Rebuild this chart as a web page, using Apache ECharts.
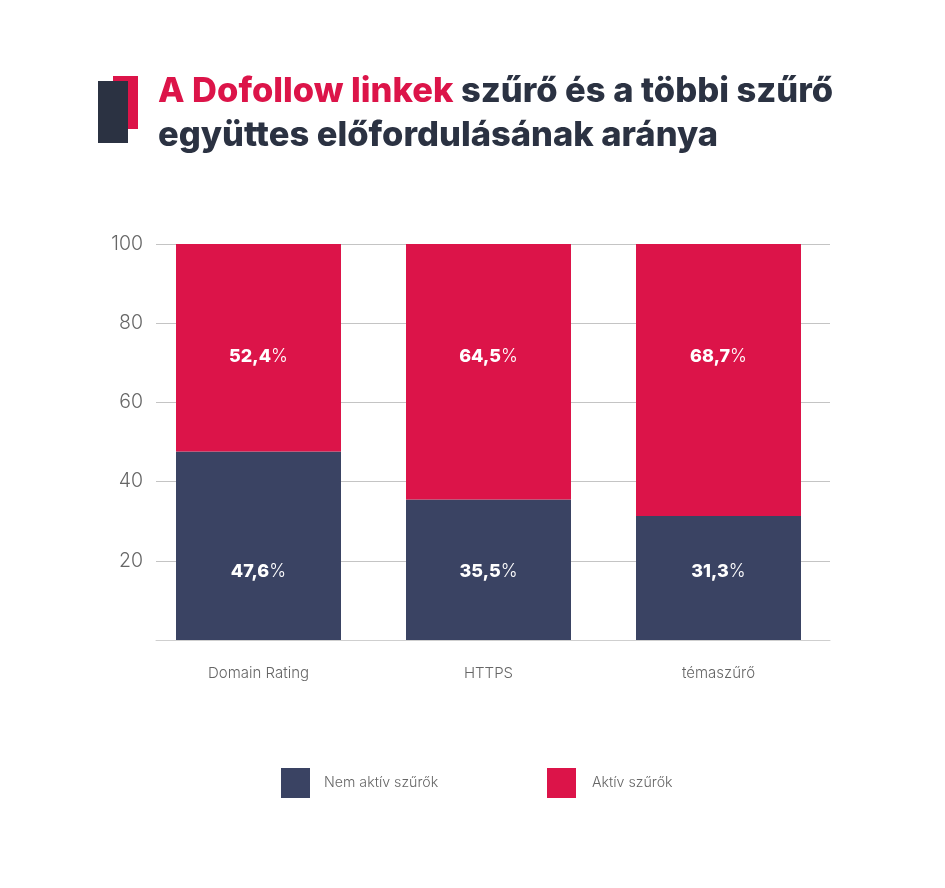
<!DOCTYPE html>
<html>
<head>
<meta charset="utf-8">
<style>html,body{margin:0;padding:0;background:#fff}#chart{width:945px;height:888px}</style>
<script src="https://cdn.jsdelivr.net/npm/echarts@6/dist/echarts.min.js"></script>
</head>
<body>
<div id="chart"></div>
<script>
const categories = ['Domain Rating', 'HTTPS', 'témaszűrő'];
const inactive = [47.6, 35.5, 31.3];
const active = [52.4, 64.5, 68.7];
const inactiveName = 'Nem aktív szűrők';
const activeName = 'Aktív szűrők';
const yTicks = { min: 0, max: 100, interval: 20 };

const NAVY = '#3a4363', RED = '#dc1449', DARK = '#2b3242';
const FONT = 'Inter';
const plotHeight = 396;
// the labels sit on one line across all bars, whatever the bar height
const inactiveLabelAt = 17.3, activeLabelAt = 71.5;

const fmt = v => v.toFixed(1).replace('.', ',');
const labelStyle = {
  show: true,
  position: 'inside',
  formatter: p => '{b|' + fmt(p.value) + '}{p|%}',
  rich: {
    b: { color: '#fff', fontFamily: FONT, fontSize: 18, fontWeight: 800 },
    p: { color: '#fff', fontFamily: FONT, fontSize: 18, fontWeight: 300 }
  }
};
const place = (v, center, at) => ({
  value: v,
  label: { offset: [0, (center - at) * plotHeight / 100] }
});

const chart = echarts.init(document.getElementById('chart'), null, { renderer: 'canvas' });
chart.setOption({
  animation: false,
  backgroundColor: '#fff',
  title: {
    left: 158,
    top: 70,
    padding: 0,
    text: '{r|A Dofollow linkek}{d| szűrő és a többi szűrő}\n{d|együttes előfordulásának aránya}',
    textStyle: {
      rich: {
        r: { color: RED, fontFamily: FONT, fontSize: 34.5, fontWeight: 800, lineHeight: 44 },
        d: { color: DARK, fontFamily: FONT, fontSize: 34.5, fontWeight: 800, lineHeight: 44 }
      }
    }
  },
  graphic: [
    { type: 'rect', shape: { x: 113, y: 76, width: 25, height: 53 }, style: { fill: RED } },
    { type: 'rect', shape: { x: 98, y: 81, width: 30, height: 62 }, style: { fill: DARK } }
  ],
  legend: [
    {
      left: 281, top: 768, padding: 0, itemWidth: 29, itemHeight: 30, icon: 'rect', data: [inactiveName],
      textStyle: { color: '#666', fontFamily: FONT, fontSize: 14.2, fontWeight: 300, padding: [0, 0, 0, 9] }
    },
    {
      left: 547, top: 768, padding: 0, itemWidth: 29, itemHeight: 30, icon: 'rect', data: [activeName],
      textStyle: { color: '#666', fontFamily: FONT, fontSize: 14.2, fontWeight: 300, padding: [0, 0, 0, 11] }
    }
  ],
  grid: [
    { left: 156, width: 674, top: 244, height: plotHeight },
    { left: 143.5, width: 690, top: 244, height: plotHeight }
  ],
  xAxis: [
    {
      gridIndex: 0, type: 'value', min: 0, max: 1,
      axisLine: { show: true, onZero: false, lineStyle: { color: '#cfcfcf', width: 1 } },
      axisTick: { show: false }, axisLabel: { show: false }, splitLine: { show: false }
    },
    {
      gridIndex: 1, type: 'category', data: categories,
      axisLine: { show: false }, axisTick: { show: false },
      axisLabel: { margin: 26, color: '#666', fontFamily: FONT, fontSize: 15, fontWeight: 300 }
    }
  ],
  yAxis: [
    {
      gridIndex: 0, type: 'value', ...yTicks,
      axisLine: { show: false }, axisTick: { show: false },
      axisLabel: {
        margin: 13, color: '#666', fontFamily: FONT, fontSize: 19.5, fontWeight: 300,
        formatter: v => (v === 0 ? '' : String(v))
      },
      splitLine: { lineStyle: { color: '#c4c4c4', width: 1 } }
    },
    { gridIndex: 1, type: 'value', ...yTicks, show: false, splitLine: { show: false } }
  ],
  series: [
    {
      name: inactiveName, type: 'bar', stack: 'total', xAxisIndex: 1, yAxisIndex: 1, barWidth: 165,
      itemStyle: { color: NAVY }, label: labelStyle,
      data: inactive.map(v => place(v, v / 2, inactiveLabelAt))
    },
    {
      name: activeName, type: 'bar', stack: 'total', xAxisIndex: 1, yAxisIndex: 1, barWidth: 165,
      itemStyle: { color: RED }, label: labelStyle,
      data: active.map((v, i) => place(v, inactive[i] + v / 2, activeLabelAt))
    }
  ]
});
</script>
</body>
</html>
